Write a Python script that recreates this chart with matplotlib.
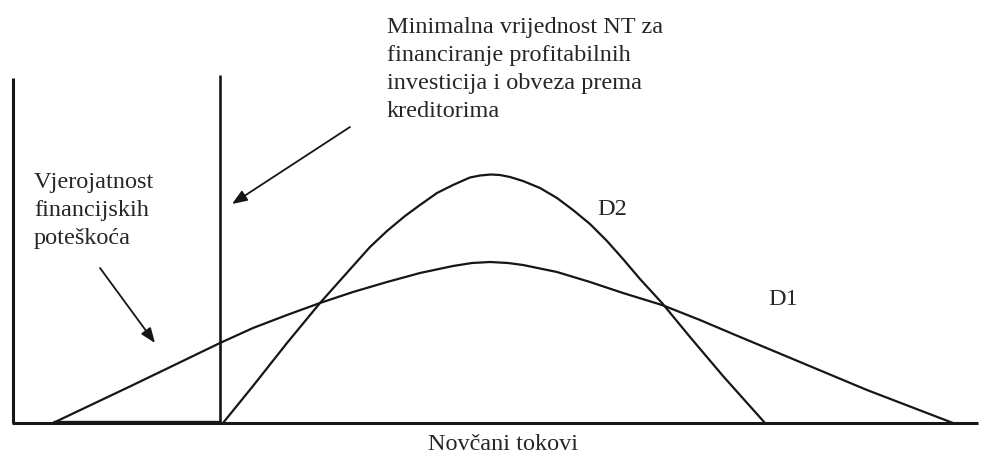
import matplotlib
matplotlib.use("Agg")
import matplotlib.pyplot as plt

# Schematic data (x = cash flow position, y = probability density height)
d1_x = [53, 133, 220, 253, 287, 320, 353, 387, 420, 453, 472, 490, 508, 523, 557, 590, 623, 662, 700, 733, 800, 867, 953]
d1_y = [0, 38, 80, 95, 108, 120, 131, 141, 150, 157, 160, 161, 160, 158, 151, 141, 130, 118, 103, 89, 61, 33, 0]

d2_x = [223, 253, 287, 320, 353, 370, 387, 405, 420, 437, 453, 462, 470, 480, 491, 500, 510, 523, 540, 557, 573, 590, 607, 623, 640, 662, 690, 723, 765]
d2_y = [0, 37, 80, 120, 157, 176, 192, 207, 218, 230, 238, 242, 245.5, 247.5, 248.5, 248, 246, 242, 235, 225, 213, 199, 182, 164, 144, 120, 86, 47, 0]

axis_x0, axis_x1, axis_top = 13, 978, 345
min_nt_x, min_nt_top = 220, 348
distress_x = [53, 220]

xlabel = "Novčani tokovi"
note_min = ["Minimalna vrijednost NT za", "financiranje profitabilnih",
            "investicija i obveza prema", "kreditorima"]
note_prob = ["Vjerojatnost", "financijskih", "poteškoća"]
lab_d1, lab_d2 = "D1", "D2"

plt.rcParams['font.family'] = ['Liberation Serif', 'DejaVu Serif']
ink = "#161616"
txt = "#262626"
fs = 17.5
H = 423  # pixel row of the baseline axis, used to convert annotation positions

fig = plt.figure(figsize=(9.81, 4.54), dpi=100)
ax = fig.add_axes([0, 0, 1, 1])
ax.set_xlim(0, 981)
ax.set_ylim(-31, 423)
ax.axis('off')

# axes
ax.plot([axis_x0, axis_x0], [0, axis_top], color=ink, lw=2.2, solid_capstyle='butt')
ax.plot([axis_x0 - 1, axis_x1], [0, 0], color=ink, lw=2.2, solid_capstyle='butt')
ax.plot([min_nt_x, min_nt_x], [0, min_nt_top], color=ink, lw=1.9, solid_capstyle='butt')
ax.plot(distress_x, [1.5, 1.5], color=ink, lw=2.4, solid_capstyle='butt')

# curves
ax.plot(d1_x, d1_y, color=ink, lw=1.6, solid_joinstyle='round')
ax.plot(d2_x, d2_y, color=ink, lw=1.6, solid_joinstyle='round')

# arrows
ap = dict(arrowstyle='-|>,head_length=0.9,head_width=0.35', color=ink, lw=1.3, shrinkA=0, shrinkB=0)
ax.annotate("", xy=(232, H - 204), xytext=(350, H - 127), arrowprops=ap)
ax.annotate("", xy=(155, H - 343), xytext=(100, H - 268), arrowprops=ap)

# texts
for i, line in enumerate(note_min):
    ax.text(387, H - (33 + 28.1 * i), line, fontsize=fs, color=txt, va='baseline', ha='left')
for i, line in enumerate(note_prob):
    ax.text(34, H - (188 + 28 * i), line, fontsize=fs, color=txt, va='baseline', ha='left')
ax.text(597, H - 215, lab_d2, fontsize=fs, color=txt, va='baseline', ha='left')
ax.text(768, H - 305, lab_d1, fontsize=fs, color=txt, va='baseline', ha='left')
ax.text(503, H - 450, xlabel, fontsize=fs, color=txt, va='baseline', ha='center')

fig.savefig("out.png", dpi=100, facecolor='white')
